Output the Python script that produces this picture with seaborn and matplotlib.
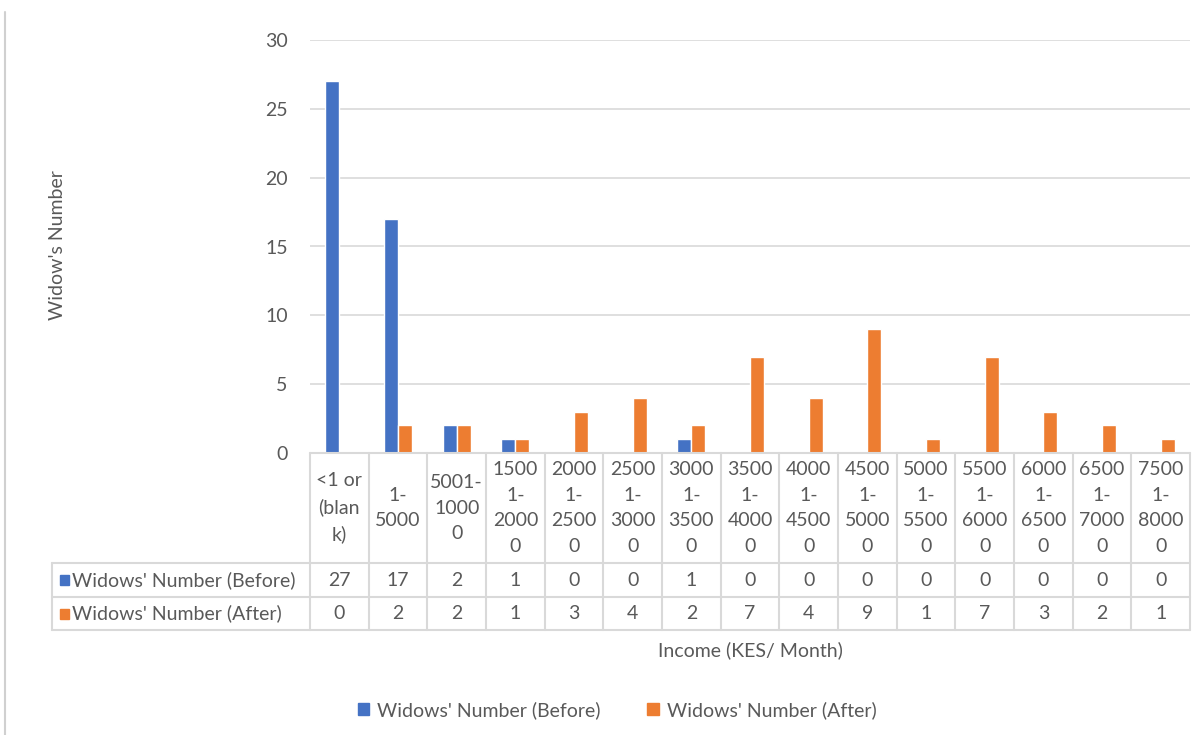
import matplotlib
matplotlib.use("Agg")
import matplotlib.pyplot as plt
import matplotlib.transforms as mtransforms
from matplotlib.lines import Line2D
from matplotlib.patches import Rectangle
import seaborn as sns
import pandas as pd

# Income bands (KES per month), wrapped the way they appear in the table header
categories = [
    "<1 or\n(blan\nk)", "1-\n5000", "5001-\n1000\n0",
    "1500\n1-\n2000\n0", "2000\n1-\n2500\n0", "2500\n1-\n3000\n0",
    "3000\n1-\n3500\n0", "3500\n1-\n4000\n0", "4000\n1-\n4500\n0",
    "4500\n1-\n5000\n0", "5000\n1-\n5500\n0", "5500\n1-\n6000\n0",
    "6000\n1-\n6500\n0", "6500\n1-\n7000\n0", "7500\n1-\n8000\n0",
]
before = [27, 17, 2, 1, 0, 0, 1, 0, 0, 0, 0, 0, 0, 0, 0]
after = [0, 2, 2, 1, 3, 4, 2, 7, 4, 9, 1, 7, 3, 2, 1]
series_names = ["Widows' Number (Before)", "Widows' Number (After)"]
yticks = [0, 5, 10, 15, 20, 25, 30]

BLUE = "#4472C4"
ORANGE = "#ED7D31"
TEXT = "#595959"
GRID = "#D9D9D9"

sns.set_theme(style="white")
plt.rcParams["font.family"] = ["Lato", "DejaVu Sans"]
FS = 14

W, H = 1201, 735
fig = plt.figure(figsize=(W / 100, H / 100), dpi=100)


def fx(x):
    return x / W


def fy(y):
    return 1 - y / H


# plot area
left, right, top, base = 310, 1190, 40, 453
ax = fig.add_axes([fx(left), fy(base), fx(right - left), (base - top) / H])

df = pd.DataFrame({
    "band": categories * 2,
    "count": before + after,
    "series": [series_names[0]] * len(categories) + [series_names[1]] * len(categories),
})
sns.barplot(data=df, x="band", y="count", hue="series", order=categories,
            hue_order=series_names, palette=[BLUE, ORANGE], width=0.48,
            saturation=1, legend=False, ax=ax, zorder=3)

ax.set_xlim(-0.5, len(categories) - 0.5)
ax.set_ylim(0, 30)
ax.set_yticks(yticks)
ax.set_yticklabels([str(v) for v in yticks], fontsize=FS, color=TEXT)
ax.tick_params(axis="y", length=0, pad=16)
ax.set_xticks([])
ax.set_xlabel("")
ax.set_ylabel("")
ax.yaxis.grid(True, color=GRID, linewidth=1.2, zorder=0)
for s in ax.spines.values():
    s.set_visible(False)

# data table beneath the axis
blend = mtransforms.blended_transform_factory(ax.transData, fig.transFigure)
row_top, row1, row2, row_bot = 453, 563, 597, 630
label_left = 52
n = len(categories)

lw = 1.5
for i in range(n + 1):
    x = i - 0.5
    fig.add_artist(Line2D([x, x], [fy(row_top), fy(row_bot)], transform=blend,
                          color=GRID, linewidth=lw, clip_on=False))
fig.add_artist(Line2D([fx(left), fx(right)], [fy(row_top)] * 2,
                      transform=fig.transFigure, color=GRID, linewidth=lw))
for yy in (row1, row2, row_bot):
    fig.add_artist(Line2D([fx(label_left), fx(right)], [fy(yy)] * 2,
                          transform=fig.transFigure, color=GRID, linewidth=lw))
fig.add_artist(Line2D([fx(label_left)] * 2, [fy(row1), fy(row_bot)],
                      transform=fig.transFigure, color=GRID, linewidth=lw))

for i, cat in enumerate(categories):
    fig.text(i, fy((row_top + row1) / 2), cat, transform=blend, ha="center",
             va="center", fontsize=FS, color=TEXT, linespacing=1.62)
    fig.text(i, fy((row1 + row2) / 2), str(before[i]), transform=blend,
             ha="center", va="center", fontsize=FS, color=TEXT)
    fig.text(i, fy((row2 + row_bot) / 2), str(after[i]), transform=blend,
             ha="center", va="center", fontsize=FS, color=TEXT)

for (y0, y1), name, col in zip([(row1, row2), (row2, row_bot)], series_names,
                               [BLUE, ORANGE]):
    yc = (y0 + y1) / 2
    fig.add_artist(Rectangle((fx(60), fy(yc + 5)), fx(9), 10 / H,
                             transform=fig.transFigure, color=col))
    fig.text(fx(72), fy(yc), name, ha="left", va="center", fontsize=FS,
             color=TEXT)

# axis titles
fig.text(fx(58), fy(245), "Widow's Number", rotation=90, ha="center",
         va="center", fontsize=FS, color=TEXT)
fig.text(fx(750), fy(650), "Income (KES/ Month)", ha="center", va="center",
         fontsize=FS, color=TEXT)

# legend
handles = [Rectangle((0, 0), 1, 1, color=c) for c in (BLUE, ORANGE)]
fig.legend(handles, series_names, loc="center", bbox_to_anchor=(fx(617), fy(710)),
           ncol=2, frameon=False, fontsize=FS, labelcolor=TEXT,
           handlelength=0.6, handleheight=0.6, handletextpad=0.4,
           columnspacing=2.4)

# chart frame edge on the left
fig.add_artist(Line2D([fx(5), fx(5)], [fy(12), 0], transform=fig.transFigure,
                      color="#D0D0D0", linewidth=1.5))

fig.savefig("out.png", dpi=100, facecolor="white")
